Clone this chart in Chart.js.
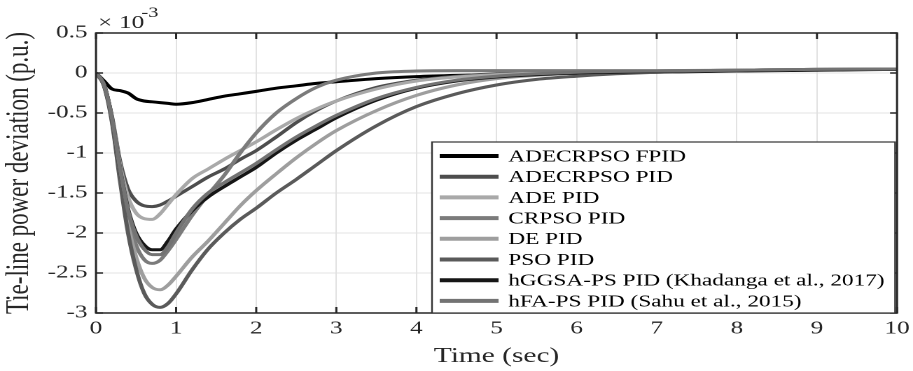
<!DOCTYPE html>
<html>
<head>
<meta charset="utf-8">
<script src="https://cdn.jsdelivr.net/npm/chart.js@4"></script>
<style>
  html, body { margin: 0; padding: 0; background: #fff; overflow: hidden; }
  #wrap { width: 652px; height: 371px; transform: scaleX(1.40031); transform-origin: 0 0; }
</style>
</head>
<body>
<div id="wrap"><canvas id="c" width="652" height="371"></canvas></div>
<script>
// Time axis (sec)
const time = [0,0.1,0.2,0.3,0.4,0.5,0.6,0.7,0.8,0.9,1.0,1.2,1.4,1.6,1.8,2.0,2.25,2.5,2.75,3.0,3.5,4.0,4.5,5,5.5,6,6.5,7,8,9,10];

// Tie-line power deviation (x 1e-3 p.u.)
const adecrpsoFpid = [0,-0.1,-0.2,-0.22,-0.25,-0.32,-0.35,-0.36,-0.37,-0.38,-0.39,-0.37,-0.33,-0.29,-0.26,-0.23,-0.19,-0.16,-0.13,-0.11,-0.07,-0.045,-0.03,-0.02,-0.01,-0.005,0.005,0.01,0.025,0.035,0.045];
const adecrpsoPid  = [0,-0.15,-0.55,-1.1,-1.45,-1.6,-1.66,-1.67,-1.65,-1.6,-1.54,-1.42,-1.3,-1.2,-1.08,-0.97,-0.8,-0.62,-0.47,-0.35,-0.18,-0.09,-0.04,-0.01,0.0,0.01,0.02,0.025,0.035,0.045,0.05];
const adePid       = [0,-0.15,-0.56,-1.15,-1.55,-1.75,-1.82,-1.83,-1.76,-1.64,-1.52,-1.32,-1.2,-1.08,-0.97,-0.86,-0.71,-0.57,-0.45,-0.35,-0.2,-0.1,-0.05,-0.02,0.0,0.01,0.02,0.025,0.035,0.045,0.05];
const crpsoPid     = [0,-0.15,-0.57,-1.22,-1.8,-2.15,-2.33,-2.38,-2.34,-2.22,-2.08,-1.78,-1.52,-1.28,-1.0,-0.75,-0.5,-0.32,-0.18,-0.09,0.0,0.025,0.03,0.03,0.03,0.03,0.03,0.03,0.035,0.045,0.05];
const dePid        = [0,-0.16,-0.6,-1.3,-1.9,-2.3,-2.56,-2.68,-2.71,-2.65,-2.54,-2.3,-2.1,-1.88,-1.66,-1.47,-1.26,-1.06,-0.88,-0.72,-0.47,-0.28,-0.15,-0.07,-0.03,0.0,0.015,0.02,0.03,0.04,0.05];
const psoPid       = [0,-0.16,-0.62,-1.35,-2.0,-2.45,-2.75,-2.89,-2.93,-2.88,-2.76,-2.46,-2.2,-2.0,-1.83,-1.69,-1.5,-1.33,-1.15,-0.97,-0.66,-0.42,-0.26,-0.15,-0.08,-0.04,-0.01,0.01,0.03,0.04,0.05];
const hggsaPid     = [0,-0.15,-0.57,-1.2,-1.7,-2.0,-2.15,-2.21,-2.21,-2.1,-1.95,-1.72,-1.55,-1.42,-1.3,-1.18,-1.0,-0.84,-0.7,-0.56,-0.34,-0.19,-0.1,-0.05,-0.02,0.0,0.01,0.02,0.03,0.04,0.045];
const hfaPid       = [0,-0.15,-0.57,-1.2,-1.72,-2.03,-2.2,-2.27,-2.27,-2.17,-2.0,-1.7,-1.5,-1.37,-1.25,-1.13,-0.96,-0.8,-0.66,-0.53,-0.32,-0.18,-0.09,-0.04,-0.01,0.01,0.02,0.025,0.035,0.045,0.05];

const seriesLabels = [
  'ADECRPSO FPID',
  'ADECRPSO PID',
  'ADE PID',
  'CRPSO PID',
  'DE PID',
  'PSO PID',
  'hGGSA-PS PID (Khadanga et al., 2017)',
  'hFA-PS PID (Sahu et al., 2015)'
];
const seriesValues = [adecrpsoFpid, adecrpsoPid, adePid, crpsoPid, dePid, psoPid, hggsaPid, hfaPid];
const seriesColors = ['#000000','#4d4d4d','#a9a9a9','#7b7b7b','#9e9e9e','#5a5a5a','#161616','#737373'];

const xTicks = [0,1,2,3,4,5,6,7,8,9,10];
const yTicks = [-3,-2.5,-2,-1.5,-1,-0.5,0,0.5];

const FONT = "'Liberation Serif', 'Times New Roman', serif";

const datasets = seriesValues.map((vals, i) => ({
  label: seriesLabels[i],
  data: time.map((t, k) => ({ x: t, y: vals[k] })),
  borderColor: seriesColors[i],
  backgroundColor: seriesColors[i],
  borderWidth: 3,
  pointRadius: 0,
  fill: false,
  cubicInterpolationMode: 'monotone',
  order: seriesValues.length - i
}));

const framePlugin = {
  id: 'frame',
  afterDatasetsDraw(chart) {
    const ctx = chart.ctx;
    const a = chart.chartArea;
    const xs = chart.scales.x, ys = chart.scales.y;
    ctx.save();
    // frame
    ctx.strokeStyle = '#262626';
    ctx.lineWidth = 1.5;
    ctx.strokeRect(a.left, a.top, a.right - a.left, a.bottom - a.top);
    // inner ticks
    ctx.beginPath();
    xTicks.forEach(v => {
      const px = xs.getPixelForValue(v);
      ctx.moveTo(px, a.bottom); ctx.lineTo(px, a.bottom - 6);
      ctx.moveTo(px, a.top); ctx.lineTo(px, a.top + 6);
    });
    yTicks.forEach(v => {
      const py = ys.getPixelForValue(v);
      ctx.moveTo(a.left, py); ctx.lineTo(a.left + 5, py);
      ctx.moveTo(a.right, py); ctx.lineTo(a.right - 5, py);
    });
    ctx.stroke();

    // exponent label
    ctx.fillStyle = '#262626';
    ctx.textBaseline = 'alphabetic';
    ctx.textAlign = 'left';
    ctx.font = '18px ' + FONT;
    ctx.fillText('\u00d7', a.left + 1.5, 28);
    ctx.fillText('10', a.left + 16.5, 28);
    ctx.font = '14.5px ' + FONT;
    ctx.fillText('-3', a.left + 32.5, 17);

    // legend box
    const lx1 = a.left + (432 - 96) / 1.40031;
    const lx2 = a.right - 1.4;
    const ly1 = 142, ly2 = a.bottom;
    ctx.fillStyle = '#ffffff';
    ctx.fillRect(lx1, ly1, lx2 - lx1, ly2 - ly1);
    ctx.strokeStyle = '#333333';
    ctx.lineWidth = 1.2;
    ctx.strokeRect(lx1, ly1, lx2 - lx1, ly2 - ly1);
    ctx.font = '16.6px ' + FONT;
    ctx.textBaseline = 'middle';
    chart.data.datasets.forEach((ds, i) => {
      const cy = 156 + i * 20.7;
      ctx.strokeStyle = ds.borderColor;
      ctx.lineWidth = 4;
      ctx.beginPath();
      ctx.moveTo(lx1 + 5.5, cy);
      ctx.lineTo(lx1 + 47.5, cy);
      ctx.stroke();
      ctx.fillStyle = '#000';
      ctx.fillText(ds.label, lx1 + 54.5, cy + 1);
    });
    ctx.restore();
  }
};

new Chart(document.getElementById('c'), {
  type: 'line',
  data: { datasets },
  options: {
    responsive: false,
    animation: false,
    devicePixelRatio: 2,
    layout: { padding: { top: 33, right: 11.4, left: 0, bottom: 0 } },
    plugins: { legend: { display: false }, tooltip: { enabled: false } },
    scales: {
      x: {
        type: 'linear',
        min: 0, max: 10,
        afterFit(s) { s.height = 58; s.paddingLeft = 0; s.paddingRight = 0; },
        afterBuildTicks(s) { s.ticks = xTicks.map(v => ({ value: v })); },
        border: { display: false },
        grid: { color: '#e2e2e2', lineWidth: 1, drawTicks: false },
        ticks: { color: '#262626', font: { family: FONT, size: 18 }, padding: 5, maxRotation: 0 },
        title: { display: true, text: 'Time (sec)', color: '#262626', font: { family: FONT, size: 21 }, padding: { top: 0, bottom: 2 } }
      },
      y: {
        type: 'linear',
        min: -3, max: 0.5,
        afterFit(s) { s.width = 96 / 1.40031; s.paddingTop = 0; s.paddingBottom = 0; },
        afterBuildTicks(s) { s.ticks = yTicks.map(v => ({ value: v })); },
        border: { display: false },
        grid: { color: '#e2e2e2', lineWidth: 1, drawTicks: false },
        ticks: { color: '#262626', font: { family: FONT, size: 18 }, padding: 6,
                 callback: v => String(v) },
        title: { display: true, text: 'Tie-line power deviation (p.u.)', color: '#262626', font: { family: FONT, size: 23 }, padding: { top: 0, bottom: 0 } }
      }
    }
  },
  plugins: [framePlugin]
});
</script>
</body>
</html>
